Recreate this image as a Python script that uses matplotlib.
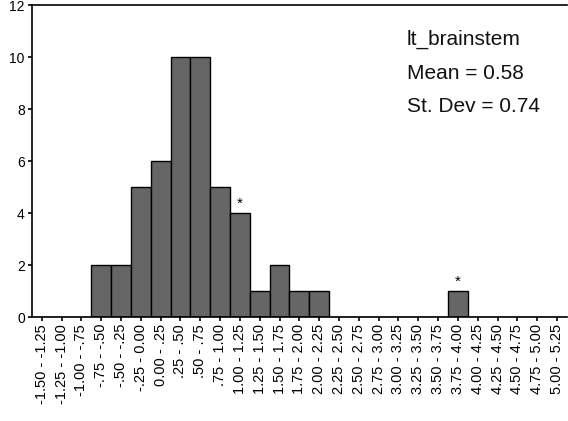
import numpy as np
import matplotlib
matplotlib.use("Agg")
import matplotlib.pyplot as plt

plt.rcParams['font.family'] = ['Liberation Sans', 'DejaVu Sans']

# data
bin_labels = ["-1.50 - -1.25", "-1.25 - -1.00", "-1.00 - -.75", "-.75 - -.50",
              "-.50 - -.25", "-.25 - 0.00", "0.00 - .25", ".25 - .50",
              ".50 - .75", ".75 - 1.00", "1.00 - 1.25", "1.25 - 1.50",
              "1.50 - 1.75", "1.75 - 2.00", "2.00 - 2.25", "2.25 - 2.50",
              "2.50 - 2.75", "2.75 - 3.00", "3.00 - 3.25", "3.25 - 3.50",
              "3.50 - 3.75", "3.75 - 4.00", "4.00 - 4.25", "4.25 - 4.50",
              "4.50 - 4.75", "4.75 - 5.00", "5.00 - 5.25"]
counts = [0, 0, 0, 2, 2, 5, 6, 10, 10, 5, 4, 1, 2, 1, 1,
          0, 0, 0, 0, 0, 0, 1, 0, 0, 0, 0, 0]
starred = ["1.00 - 1.25", "3.75 - 4.00"]
stats_lines = ["lt_brainstem", "Mean = 0.58", "St. Dev = 0.74"]
y_ticks = [0, 2, 4, 6, 8, 10, 12]

fig = plt.figure(figsize=(5.68, 4.21), dpi=100)
ax = fig.add_axes([0.056, 0.247, 0.942, 0.741])

x = np.arange(len(bin_labels))
ax.bar(x, counts, width=1.0, color='#666666', edgecolor='black', linewidth=1.0)

# outlier markers
for lab in starred:
    i = bin_labels.index(lab)
    ax.text(i, counts[i] + 0.1, '*', ha='center', va='bottom', fontsize=11)

ax.set_xlim(-0.5, len(bin_labels) - 0.5)
ax.set_ylim(0, 12)
ax.set_yticks(y_ticks)
ax.set_xticks(x)
ax.set_xticklabels(bin_labels, rotation=90, fontsize=10.5)
ax.tick_params(axis='y', labelsize=10, length=3, width=1.2, pad=2)
ax.tick_params(axis='x', length=3, width=1.2, pad=2)

ax.spines['right'].set_visible(False)
for s in ['left', 'bottom', 'top']:
    ax.spines[s].set_linewidth(1.2)

for k, line in enumerate(stats_lines):
    ax.text(0.701, 0.872 - k * 0.1075, line, transform=ax.transAxes,
            fontsize=15, ha='left', va='baseline', color='#111111')

fig.savefig("out.png", dpi=100)
